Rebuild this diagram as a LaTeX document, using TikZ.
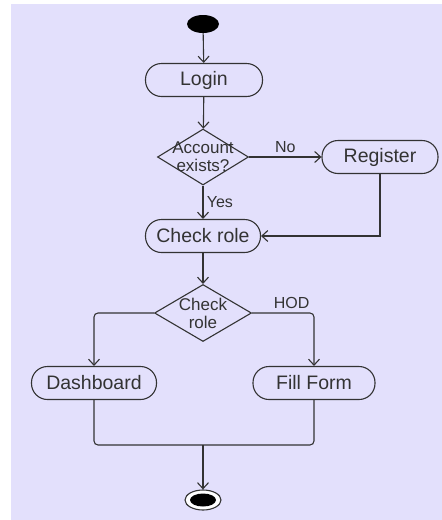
\documentclass[tikz,border=0pt]{standalone}
\usepackage{fontspec}
\setmainfont{Liberation Sans}
\usetikzlibrary{arrows.meta}
\usetikzlibrary{shapes.geometric}

\definecolor{bglav}{HTML}{E3E0FC}
\definecolor{ink}{HTML}{333333}

\tikzset{
    activity/.style={draw=ink,line width=1.1pt,rounded corners=16pt,minimum height=33pt,
        inner sep=0pt,text=ink,font=\fontsize{19.5}{21}\selectfont},
    decision/.style={draw=ink,line width=1.1pt,diamond,inner sep=0pt},
    dtext/.style={text=ink,align=center,font=\fontsize{17}{18}\selectfont},
    flow/.style={draw=ink,line width=1.1pt,-{Straight Barb[length=6pt,width=11pt]}},
    link/.style={draw=ink,line width=1.1pt},
    guard/.style={text=ink,font=\fontsize{16}{17}\selectfont}
}

\begin{document}
\begin{tikzpicture}[x=1pt,y=-1pt]

            %\draw [help lines] (0,0) grid (442,520);
            \useasboundingbox (0,0) rectangle (442,520);
            \fill[white] (0,0) rectangle (442,520);
            \fill[bglav] (11,4) rectangle (442,520);

            \path   (203,24)  node (start) [ellipse,fill=black,minimum width=32pt,minimum height=18pt,inner sep=0pt] {}
                    (204,80)  node (login) [activity,minimum width=117pt] {Login}
                    (203,157) node (acct) [decision,minimum width=91pt,minimum height=56pt] {}
                    (203,157) node (accttext) [dtext] {Account\\exists?}
                    (380,157) node (register) [activity,minimum width=116pt] {Register}
                    (203,236) node (check) [activity,minimum width=115pt] {Check role}
                    (203,313) node (role) [decision,minimum width=97pt,minimum height=57pt] {}
                    (203,313) node (roletext) [dtext] {Check\\role}
                    (94,383)  node (dash) [activity,minimum width=125pt] {Dashboard}
                    (314,383) node (fill) [activity,minimum width=122pt] {Fill Form}
                    (203,500) node (end) [ellipse,draw=ink,line width=1.1pt,fill=white,minimum width=36pt,minimum height=20pt,inner sep=0pt] {}
                    (203,500) node (enddot) [ellipse,fill=black,minimum width=26pt,minimum height=13pt,inner sep=0pt] {};

            \coordinate (merge) at (203,445);

            \draw[flow] (node cs: name=start) -- (node cs: name=login);
            \draw[flow] (node cs: name=login) -- (node cs: name=acct);
            \draw[flow] (node cs: name=acct) -- node (no) [guard,above] {No} (node cs: name=register);
            \draw[flow] (node cs: name=acct) -- node (yes) [guard,right] {Yes} (node cs: name=check);
            \draw[flow] (node cs: name=register) |- (node cs: name=check);
            \draw[flow] (node cs: name=check) -- (node cs: name=role);
            \draw[flow,rounded corners=4pt] (role.west) -| (node cs: name=dash);
            \draw[flow,rounded corners=4pt] (role.east) -| node (hod) [guard,above,pos=0.32] {HOD} (node cs: name=fill);
            \draw[link,rounded corners=4pt] (dash.south) |- (merge) -| (fill.south);
            \draw[flow] (merge) -- (node cs: name=end);

        \end{tikzpicture}
\end{document}
